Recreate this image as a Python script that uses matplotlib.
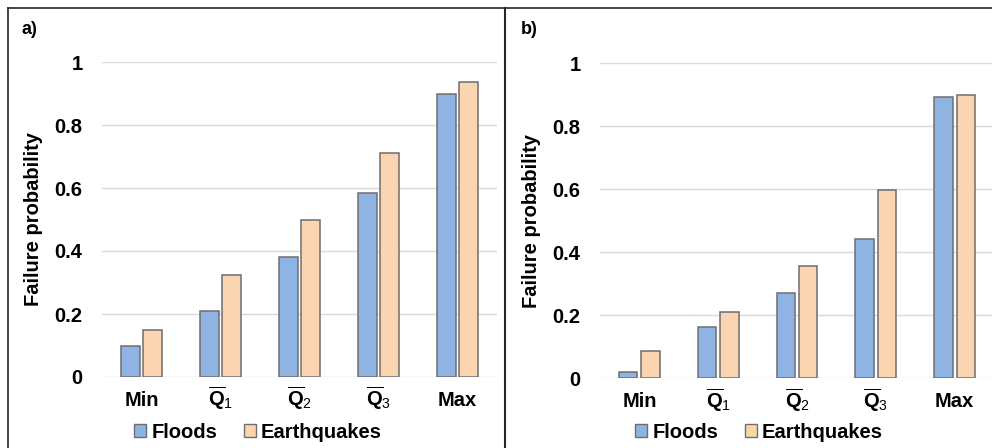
import matplotlib
matplotlib.use("Agg")
import matplotlib.pyplot as plt
from matplotlib.patches import Patch
from matplotlib.lines import Line2D
import numpy as np

plt.rcParams['font.family'] = ['Liberation Sans', 'DejaVu Sans']
plt.rcParams['mathtext.fontset'] = 'custom'
plt.rcParams['mathtext.rm'] = 'Liberation Sans'
plt.rcParams['mathtext.bf'] = 'Liberation Sans:bold'
plt.rcParams['mathtext.it'] = 'Liberation Sans:italic'

categories = ['Min', r'$\overline{\mathbf{Q}}_{\mathrm{1}}$', r'$\overline{\mathbf{Q}}_{\mathrm{2}}$',
              r'$\overline{\mathbf{Q}}_{\mathrm{3}}$', 'Max']
series_names = ['Floods', 'Earthquakes']
floods_a = [0.10, 0.21, 0.38, 0.585, 0.90]
quakes_a = [0.15, 0.323, 0.50, 0.71, 0.935]
floods_b = [0.021, 0.164, 0.271, 0.442, 0.893]
quakes_b = [0.086, 0.211, 0.357, 0.599, 0.90]
yticks = [0, 0.2, 0.4, 0.6, 0.8, 1]
ytick_labels = ['0', '0.2', '0.4', '0.6', '0.8', '1']
panel_labels = ['a)', 'b)']

c_flood = '#8FB4E3'
c_quake = '#FBD5B1'
edge = '#6E6E6E'

W, H = 992, 448
fig = plt.figure(figsize=(W / 100, H / 100), dpi=100)

def fx(px):
    return px / W

def fy(py):
    return 1 - py / H

panels = [
    dict(left=102, right=497, top=62, bottom=377, fl=floods_a, eq=quakes_a,
         lab=panel_labels[0], labx=22, legx=258),
    dict(left=600, right=994, top=63.3, bottom=378.3, fl=floods_b, eq=quakes_b,
         lab=panel_labels[1], labx=521, legx=759),
]

bw = 0.235
off = 0.1425
x = np.arange(len(categories))

for p in panels:
    ax = fig.add_axes([fx(p['left']), fy(p['bottom']), fx(p['right'] - p['left']),
                       (p['bottom'] - p['top']) / H])
    ax.set_axisbelow(True)
    ax.bar(x - off, p['fl'], width=bw, color=c_flood, edgecolor=edge, linewidth=1.1, zorder=3)
    ax.bar(x + off, p['eq'], width=bw, color=c_quake, edgecolor=edge, linewidth=1.1, zorder=3)
    ax.set_xlim(-0.5, len(categories) - 0.5)
    ax.set_ylim(0, 1)
    ax.set_yticks(yticks)
    ax.set_yticklabels(ytick_labels, fontsize=14.5, fontweight='bold')
    ax.yaxis.grid(True, color='#D9D9D9', linewidth=1.0)
    ax.tick_params(axis='y', length=0, pad=14)
    ax.set_xticks(x)
    ax.set_xticklabels(categories, fontsize=14.5, fontweight='bold')
    ax.tick_params(axis='x', length=0, pad=21)
    for t in ax.get_xticklabels():
        t.set_va('baseline')
    for s in ax.spines.values():
        s.set_visible(False)
    ax.set_ylabel('Failure probability', fontsize=14.5, fontweight='bold', labelpad=8)
    ax.patch.set_alpha(0)
    fig.text(fx(p['labx']), fy(29), p['lab'], fontsize=13, fontweight='bold',
             ha='left', va='center')
    handles = [Patch(facecolor=c_flood, edgecolor=edge, linewidth=1.0),
               Patch(facecolor=c_quake, edgecolor=edge, linewidth=1.0)]
    leg = fig.legend(handles, series_names, loc='center',
                     bbox_to_anchor=(fx(p['legx']), fy(432)), ncol=2, frameon=False,
                     handlelength=0.6, handleheight=0.6, handletextpad=0.25,
                     columnspacing=1.3, borderpad=0, prop={'weight': 'bold', 'size': 14.5})

border = '#262626'
fig.add_artist(Line2D([fx(7.5), 1.0], [fy(8.5), fy(8.5)], color=border, lw=1.2))
fig.add_artist(Line2D([fx(7.5), fx(7.5)], [fy(8.5), 0], color=border, lw=1.2))
fig.add_artist(Line2D([fx(505), fx(505)], [fy(8.5), 0], color=border, lw=1.5))

fig.savefig('out.png', dpi=100)
